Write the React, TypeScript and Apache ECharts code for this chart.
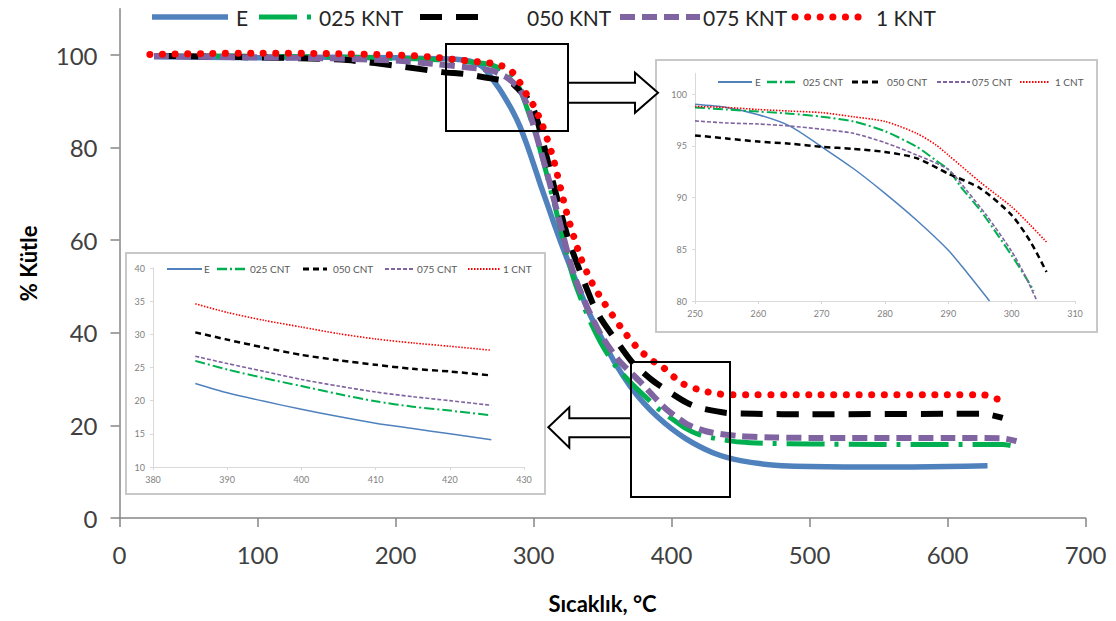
import React, { useEffect, useRef } from 'react';
import * as echarts from 'echarts';

// ---------- data ----------
const MAIN_NAMES = ['E', '025 KNT', '050 KNT', '075 KNT', '1 KNT'];
const INSET_NAMES = ['E', '025 CNT', '050 CNT', '075 CNT', '1 CNT'];
const MAIN_X_TICKS = [0, 100, 200, 300, 400, 500, 600, 700];
const MAIN_Y_TICKS = [0, 20, 40, 60, 80, 100];
const INSET1_X_TICKS = [250, 260, 270, 280, 290, 300, 310];
const INSET1_Y_TICKS = [80, 85, 90, 95, 100];
const INSET2_X_TICKS = [380, 390, 400, 410, 420, 430];
const INSET2_Y_TICKS = [10, 15, 20, 25, 30, 35, 40];

// main chart [temperature, mass %]
const E_MAIN: number[][] = [[25,99.6],[60,99.5],[100,99.4],[150,99.5],[200,99.4],[230,99.2],[250,98.9],[260,98.0],[265,96.9],[270,94.9],[275,92.8],[280,90.4],[285,87.8],[290,84.7],[295,80.8],[300,76.5],[305,72],[310,67.8],[315,63.5],[320,59.4],[325,55.5],[330,51.8],[340,44.5],[350,38.5],[360,33],[370,28.5],[380,24.8],[390,21.8],[400,19.3],[410,17.2],[420,15.5],[430,14.1],[440,13.1],[450,12.4],[465,11.7],[480,11.3],[500,11.1],[550,11.0],[600,11.1],[629,11.3]];
const K025_MAIN: number[][] = [[25,99.8],[60,99.8],[100,99.7],[150,99.6],[200,99.3],[230,99.0],[250,98.6],[260,98.3],[270,97.8],[280,96.4],[285,94.9],[290,92.7],[295,88.8],[300,84.4],[305,79.3],[310,73.8],[315,68],[320,62],[325,56],[330,50.8],[340,43.2],[350,37.2],[360,32.6],[370,29.4],[380,26.5],[390,23.7],[400,21.5],[410,19.4],[420,18.0],[435,17.0],[450,16.4],[470,16.1],[500,16.0],[550,15.9],[600,15.9],[640,15.9],[650,15.4]];
const K050_MAIN: number[][] = [[25,99.8],[60,99.7],[100,99.5],[130,99.3],[165,98.9],[205,97.5],[234,96.3],[250,95.9],[260,95.4],[270,94.9],[280,94.4],[285,93.8],[290,92.3],[295,90.9],[300,88.3],[305,83.5],[310,77.5],[315,71.5],[320,65.8],[325,60.5],[330,56.2],[343,46.3],[350,42.5],[360,38.3],[372,33.5],[385,30],[397,27.5],[411,24.9],[420,23.8],[440,22.7],[460,22.5],[500,22.4],[600,22.5],[626,22.5],[640,21.6]];
const K075_MAIN: number[][] = [[25,99.8],[60,99.6],[100,99.5],[150,99.3],[200,98.8],[230,98.0],[250,97.4],[260,97.1],[270,96.6],[280,95.3],[285,94.1],[290,92.7],[295,89.5],[300,84.8],[305,79.6],[310,74.3],[315,68.6],[320,62.8],[325,57],[330,52],[340,44.8],[350,39],[362,34],[377,29.5],[387,26.3],[397,23.3],[411,20.3],[420,19.2],[430,18.4],[450,17.7],[475,17.4],[500,17.3],[600,17.3],[640,17.2],[650,16.6]];
const K1_MAIN: number[][] = [[22,100.1],[60,100.3],[100,100.4],[150,100.3],[200,100.0],[225,99.6],[250,98.8],[260,98.5],[270,98.2],[275,97.8],[280,97.35],[285,96.2],[290,94.1],[295,91.5],[300,89.1],[306,85.2],[314,78],[324,66],[334,56.4],[342,51],[350,47],[365,40.5],[376,36.5],[386,34],[394,32.5],[407,29.2],[420,27.7],[430,27],[442,26.6],[500,26.6],[600,26.6],[626,26.6],[636,25.7],[644,25.5]];

// upper-right inset (250-310 °C)
const E_IN1: number[][] = [[250,99.0],[255,98.7],[260,98.0],[265,96.9],[270,94.9],[275,92.8],[280,90.4],[285,87.8],[290,84.9],[293,82.7],[296.5,80]];
const C025_IN1: number[][] = [[250,98.7],[255,98.5],[260,98.3],[265,98.1],[270,97.8],[275,97.35],[280,96.4],[285,94.9],[288,93.6],[290,92.7],[292,91.0],[295,88.8],[298,86.2],[300,84.4],[302,82.5],[303.5,81.0]];
const C050_IN1: number[][] = [[250,96.0],[255,95.7],[260,95.4],[265,95.2],[270,94.9],[275,94.7],[280,94.4],[285,93.8],[290,92.3],[295,90.9],[300,88.3],[303,85.7],[305.5,82.8]];
const C075_IN1: number[][] = [[250,97.4],[255,97.2],[260,97.1],[265,96.9],[270,96.6],[275,96.2],[280,95.3],[285,94.1],[290,92.7],[293,90.6],[296,88.3],[300,84.8],[302,82.6],[304,80]];
const C1_IN1: number[][] = [[250,98.8],[255,98.7],[260,98.5],[265,98.35],[270,98.2],[275,97.8],[280,97.35],[285,96.2],[288,95.1],[290,94.1],[295,91.5],[300,89.1],[303,87.3],[305.5,85.7]];

// lower-left inset (380-430 °C)
const E_IN2: number[][] = [[385.7,22.6],[390,21.2],[395,19.9],[400,18.7],[405,17.6],[410,16.6],[415,15.8],[420,15.0],[425.6,14.1]];
const C025_IN2: number[][] = [[385.7,26.0],[390,24.7],[395,23.4],[400,22.2],[405,21.0],[410,19.9],[415,19.1],[420,18.5],[425.6,17.8]];
const C050_IN2: number[][] = [[385.7,30.3],[390,29.2],[395,28.0],[400,26.9],[405,26.1],[410,25.4],[415,24.8],[420,24.4],[425.6,23.8]];
const C075_IN2: number[][] = [[385.7,26.7],[390,25.6],[395,24.4],[400,23.2],[405,22.2],[410,21.3],[415,20.6],[420,20.0],[425.6,19.3]];
const C1_IN2: number[][] = [[385.7,34.6],[390,33.3],[395,32.1],[400,31.1],[405,30.1],[410,29.3],[415,28.7],[420,28.2],[425.6,27.6]];

// ---------- styles ----------
const COLORS = ['#4f81bd', '#00b050', '#000000', '#8064a2', '#ff0000'];
const MAIN_STYLES: any[] = [
  { width: 5.5, type: 'solid', cap: 'butt' },
  { width: 5, type: [38, 10, 4, 10], cap: 'butt' },
  { width: 6, type: [22, 14], cap: 'butt' },
  { width: 6, type: [15, 7], cap: 'butt' },
  { width: 7, type: [0.1, 12.5], cap: 'round' },
];
const INSET_STYLES: any[] = [
  { width: 1.5, type: 'solid', cap: 'butt' },
  { width: 2, type: [10, 3, 2, 3], cap: 'butt' },
  { width: 2.5, type: [6, 4], cap: 'butt' },
  { width: 1.6, type: [4, 2], cap: 'butt' },
  { width: 1.6, type: [1.5, 1.5], cap: 'butt' },
];

const FONT = 'Lato, "Open Sans", sans-serif';

export default function App() {
  const ref = useRef<HTMLDivElement>(null);
  useEffect(() => {
    if (!ref.current) return;
    const chart = echarts.init(ref.current, null, { renderer: 'svg' });

    const mainData = [E_MAIN, K025_MAIN, K050_MAIN, K075_MAIN, K1_MAIN];
    const in1Data = [E_IN1, C025_IN1, C050_IN1, C075_IN1, C1_IN1];
    const in2Data = [E_IN2, C025_IN2, C050_IN2, C075_IN2, C1_IN2];

    const mk = (name: string, data: number[][], i: number, st: any, axis: number, z: number) => ({
      type: 'line',
      name,
      data,
      xAxisIndex: axis,
      yAxisIndex: axis,
      symbol: 'none',
      smooth: 0.25,
      z,
      color: COLORS[i],
      lineStyle: { color: COLORS[i], width: st.width, type: st.type, cap: st.cap, join: 'round' },
    });

    const series: any[] = [];
    mainData.forEach((d, i) => series.push(mk(MAIN_NAMES[i], d, i, MAIN_STYLES[i], 0, 2 + i)));
    in1Data.forEach((d, i) => series.push(mk(INSET_NAMES[i] + ' (a)', d, i, INSET_STYLES[i], 1, 2)));
    in2Data.forEach((d, i) => series.push(mk(INSET_NAMES[i] + ' (b)', d, i, INSET_STYLES[i], 2, 2)));

    const insetAxisCommon = {
      axisLine: { show: true, onZero: false, lineStyle: { color: '#d9d9d9', width: 1 } },
      axisTick: { show: true, length: 3, lineStyle: { color: '#d9d9d9' } },
      splitLine: { show: false },
    };
    const insetLabel = { color: '#7f7f7f', fontSize: 9, fontFamily: FONT };

    // legends drawn as graphics: [lineStart, lineEnd, textX]
    const legendMain = [
      [152, 228, 236], [259, 312, 319], [420, 486, 527], [620, 700, 703], [795, 866, 876],
    ];
    const legend1 = [
      [718, 752, 755], [767, 798, 803], [852, 880, 887], [937, 970, 972], [1020, 1050, 1055],
    ];
    const legend2 = [
      [167, 202, 204], [217, 245, 250], [303, 327, 333], [385, 415, 417], [468, 500, 503],
    ];
    const legendGraphics = (pos: number[][], y: number, names: string[], styles: any[], fontSize: number, color: string, extra: number) => {
      const out: any[] = [];
      pos.forEach((p, i) => {
        const st = styles[i];
        out.push({
          type: 'line', z: 20,
          shape: { x1: p[0], y1: y, x2: p[1], y2: y },
          style: { stroke: COLORS[i], lineWidth: st.width + extra, lineDash: Array.isArray(st.type) ? st.type : null, lineCap: st.cap },
        });
        out.push({
          type: 'text', z: 20, x: p[2], y,
          style: { text: names[i], fill: color, fontSize, fontFamily: FONT, verticalAlign: 'middle', align: 'left' },
        });
      });
      return out;
    };

    const graphic: any[] = [
      // inset frames
      { type: 'rect', z: 1, shape: { x: 656, y: 60, width: 441, height: 272 }, style: { fill: 'none', stroke: '#c8c8c8', lineWidth: 2 } },
      { type: 'rect', z: 1, shape: { x: 126, y: 253, width: 419, height: 241 }, style: { fill: 'none', stroke: '#c8c8c8', lineWidth: 2 } },
      // zoom boxes
      { type: 'rect', z: 30, shape: { x: 446, y: 44, width: 122, height: 87 }, style: { fill: 'none', stroke: '#000', lineWidth: 2 } },
      { type: 'rect', z: 30, shape: { x: 631, y: 362, width: 99, height: 135 }, style: { fill: 'none', stroke: '#000', lineWidth: 2 } },
      // arrows
      { type: 'polygon', z: 30, shape: { points: [[568, 82.7], [635, 82.7], [635, 72.7], [658, 92.7], [635, 112.7], [635, 102.7], [568, 102.7]] }, style: { fill: '#fff', stroke: '#000', lineWidth: 2 } },
      { type: 'polygon', z: 30, shape: { points: [[631, 418.3], [569.3, 418.3], [569.3, 407.3], [548.3, 427.3], [569.3, 447.7], [569.3, 437.3], [631, 437.3]] }, style: { fill: '#fff', stroke: '#000', lineWidth: 2 } },
      ...legendGraphics(legendMain, 17, MAIN_NAMES, MAIN_STYLES, 21, '#262626', 0),
      ...legendGraphics(legend1, 82, INSET_NAMES, INSET_STYLES, 10, '#595959', 0.4),
      ...legendGraphics(legend2, 269, INSET_NAMES, INSET_STYLES, 10, '#595959', 0.4),
    ];

    chart.setOption({
      animation: false,
      backgroundColor: '#ffffff',
      textStyle: { fontFamily: FONT },
      grid: [
        { left: 119.5, top: 8.7, width: 966, height: 509.3, containLabel: false },
        { left: 695, top: 73.3, width: 380, height: 227.7, containLabel: false },
        { left: 153, top: 268, width: 371, height: 199, containLabel: false },
      ],
      xAxis: [
        {
          type: 'value', gridIndex: 0, min: 0, max: 700, interval: 100,
          name: 'Sıcaklık, °C', nameLocation: 'middle', nameGap: 74,
          nameTextStyle: { fontSize: 22, fontWeight: 'bold', color: '#000', fontFamily: FONT },
          axisLine: { show: true, onZero: false, lineStyle: { color: '#868686', width: 1.5 } },
          axisTick: { show: true, length: 9, lineStyle: { color: '#868686', width: 1.5 } },
          axisLabel: { fontSize: 24, color: '#404040', margin: 24, customValues: MAIN_X_TICKS },
          splitLine: { show: false },
        },
        {
          type: 'value', gridIndex: 1, min: 250, max: 310, interval: 10,
          ...insetAxisCommon,
          axisLabel: { ...insetLabel, margin: 8, customValues: INSET1_X_TICKS },
        },
        {
          type: 'value', gridIndex: 2, min: 380, max: 430, interval: 10,
          ...insetAxisCommon,
          axisLabel: { ...insetLabel, margin: 8, customValues: INSET2_X_TICKS },
        },
      ],
      yAxis: [
        {
          type: 'value', gridIndex: 0, min: 0, max: 110, interval: 20,
          name: '% Kütle', nameLocation: 'middle', nameGap: 80, nameRotate: 90,
          nameTextStyle: { fontSize: 22, fontWeight: 'bold', color: '#000', fontFamily: FONT },
          axisLine: { show: true, onZero: false, lineStyle: { color: '#868686', width: 1.5 } },
          axisTick: { show: true, length: 9, lineStyle: { color: '#868686', width: 1.5 }, customValues: MAIN_Y_TICKS },
          axisLabel: { fontSize: 24, color: '#404040', margin: 22, customValues: MAIN_Y_TICKS, formatter: (v: number) => (v > 100 ? '' : String(v)) },
          splitLine: { show: false },
        },
        {
          type: 'value', gridIndex: 1, min: 80, max: 102, interval: 5,
          ...insetAxisCommon,
          axisTick: { show: true, length: 3, lineStyle: { color: '#d9d9d9' }, customValues: INSET1_Y_TICKS },
          axisLabel: { ...insetLabel, margin: 8, customValues: INSET1_Y_TICKS, formatter: (v: number) => (v > 100 ? '' : String(v)) },
        },
        {
          type: 'value', gridIndex: 2, min: 10, max: 40, interval: 5,
          ...insetAxisCommon,
          axisLabel: { ...insetLabel, margin: 8, customValues: INSET2_Y_TICKS },
        },
      ],
      series,
      graphic,
    });

    return () => chart.dispose();
  }, []);

  return (
    <div
      ref={ref}
      style={{ position: 'absolute', left: 0, top: 0, width: 1116, height: 621, background: '#fff' }}
    />
  );
}
